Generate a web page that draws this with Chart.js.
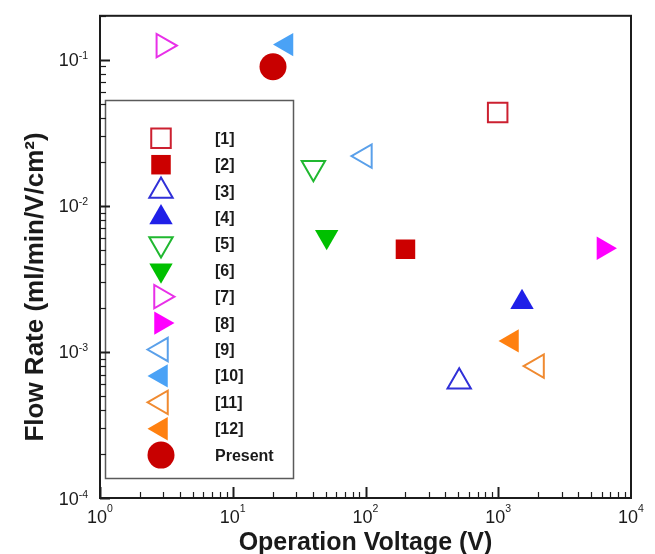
<!DOCTYPE html>
<html>
<head>
<meta charset="utf-8">
<script src="https://cdn.jsdelivr.net/npm/chart.js@4/dist/chart.umd.min.js"></script>
<style>
  html, body { margin: 0; padding: 0; background: #fff; }
  #wrap { width: 655px; height: 554px; }
</style>
</head>
<body>
<div id="wrap"><canvas id="c" width="655" height="554"></canvas></div>
<script>
// Reference works compared against the present device
const refLabels = ['[1]', '[2]', '[3]', '[4]', '[5]', '[6]', '[7]', '[8]', '[9]', '[10]', '[11]', '[12]', 'Present'];
// Operation voltage (V)
const voltage = [990, 200, 508, 1510, 40.5, 51, 3.0, 6200, 99, 25.4, 1960, 1270, 20.1];
// Flow rate (ml/min/V/cm^2)
const flowRate = [0.0436, 0.00504, 0.000625, 0.00219, 0.0182, 0.00615, 0.125, 0.00513, 0.0219, 0.127, 0.0008, 0.00119, 0.0896];
// Marker appearance per work
const markerShape = ['rect', 'rect', 'triangle', 'triangle', 'triangle', 'triangle', 'triangle', 'triangle', 'triangle', 'triangle', 'triangle', 'triangle', 'circle'];
const markerTurn = [0, 0, 0, 0, 180, 180, 90, 90, 270, 270, 270, 270, 0];
const markerFilled = [false, true, false, true, false, true, false, true, false, true, false, true, true];
const markerColor = ['#cc2030', '#cc0000', '#3030d8', '#2020e8', '#20b830', '#00c000', '#e830e8', '#ff00ff', '#5aa0ea', '#4aa2f6', '#f08a30', '#ff8010', '#c80000'];
// Axis decade tick labels
const xDecades = [0, 1, 2, 3, 4];
const yDecades = [-4, -3, -2, -1];

const FONT = '"Liberation Sans", Arial, Helvetica, sans-serif';

const datasets = refLabels.map((lab, i) => ({
  label: lab,
  data: [{ x: voltage[i], y: flowRate[i] }],
  pointStyle: markerShape[i],
  pointRotation: markerTurn[i],
  pointRadius: markerShape[i] === 'rect' ? 13.8 : 13.5,
  pointBorderWidth: markerFilled[i] ? 0 : 2,
  pointBorderColor: markerColor[i],
  pointBackgroundColor: markerFilled[i] ? markerColor[i] : 'rgba(255,255,255,0)',
  showLine: false
}));

function drawMarker(ctx, opts, x, y) {
  if (window.Chart && Chart.helpers && Chart.helpers.drawPoint) {
    Chart.helpers.drawPoint(ctx, opts, x, y);
    return;
  }
  const r = opts.radius;
  ctx.beginPath();
  if (opts.pointStyle === 'circle') {
    ctx.arc(x, y, r, 0, Math.PI * 2);
  } else if (opts.pointStyle === 'rect') {
    const s = Math.SQRT1_2 * r;
    ctx.rect(x - s, y - s, 2 * s, 2 * s);
  } else {
    let rad = (opts.rotation || 0) * Math.PI / 180;
    for (let k = 0; k < 3; k++) {
      const px = x + Math.sin(rad) * r, py = y - Math.cos(rad) * r;
      if (k === 0) ctx.moveTo(px, py); else ctx.lineTo(px, py);
      rad += 2 * Math.PI / 3;
    }
    ctx.closePath();
  }
  ctx.fill();
  if (opts.borderWidth > 0) ctx.stroke();
}

// Legend box placed inside the plot area, drawn from the datasets
const insideLegend = {
  id: 'insideLegend',
  afterDatasetsDraw(chart) {
    const ctx = chart.ctx;
    const box = { l: 105.5, t: 100.5, r: 293.5, b: 478.5 };
    ctx.save();
    ctx.fillStyle = '#ffffff';
    ctx.fillRect(box.l, box.t, box.r - box.l, box.b - box.t);
    ctx.strokeStyle = '#5a5a5a';
    ctx.lineWidth = 1.5;
    ctx.strokeRect(box.l, box.t, box.r - box.l, box.b - box.t);
    const y0 = 138.3, step = 26.4;
    chart.data.datasets.forEach((ds, i) => {
      const y = y0 + i * step;
      ctx.save();
      ctx.fillStyle = ds.pointBackgroundColor;
      ctx.strokeStyle = ds.pointBorderColor;
      ctx.lineWidth = ds.pointBorderWidth;
      drawMarker(ctx, {
        pointStyle: ds.pointStyle,
        rotation: ds.pointRotation,
        radius: ds.pointRadius,
        borderWidth: ds.pointBorderWidth
      }, 161, y);
      ctx.restore();
      ctx.fillStyle = '#1a1a1a';
      ctx.font = 'bold 16px ' + FONT;
      ctx.textAlign = 'left';
      ctx.textBaseline = 'middle';
      ctx.fillText(ds.label, 215, y + 1);
    });
    ctx.restore();
  }
};

// Frame, inward log ticks, decade labels with exponents, axis titles
const frameAxes = {
  id: 'frameAxes',
  afterDraw(chart) {
    const ctx = chart.ctx;
    const a = chart.chartArea;
    const xs = chart.scales.x, ys = chart.scales.y;
    ctx.save();
    ctx.strokeStyle = '#1c1c1c';

    // minor + major ticks on the bottom axis
    for (let d = xDecades[0]; d < xDecades[xDecades.length - 1]; d++) {
      for (let m = 1; m <= 9; m++) {
        const v = m * Math.pow(10, d);
        const px = Math.round(xs.getPixelForValue(v)) + 0.5;
        const major = m === 1;
        ctx.lineWidth = major ? 2 : 1.2;
        ctx.beginPath();
        ctx.moveTo(px, a.bottom);
        ctx.lineTo(px, a.bottom - (major ? 11 : 6));
        ctx.stroke();
      }
    }
    // minor + major ticks on the left axis
    for (let d = yDecades[0]; d <= yDecades[yDecades.length - 1]; d++) {
      for (let m = 1; m <= 9; m++) {
        const v = m * Math.pow(10, d);
        if (v > ys.max) break;
        const py = Math.round(ys.getPixelForValue(v)) + 0.5;
        const major = m === 1;
        ctx.lineWidth = major ? 2 : 1.2;
        ctx.beginPath();
        ctx.moveTo(a.left, py);
        ctx.lineTo(a.left + (major ? 10 : 6), py);
        ctx.stroke();
      }
    }

    // plot frame
    ctx.lineWidth = 2;
    ctx.strokeRect(a.left, a.top, a.right - a.left, a.bottom - a.top);

    ctx.fillStyle = '#1a1a1a';
    ctx.textBaseline = 'alphabetic';
    const baseFont = '18px ' + FONT;
    const supFont = '10.5px ' + FONT;

    // x decade labels
    xDecades.forEach(d => {
      const px = xs.getPixelForValue(Math.pow(10, d));
      ctx.font = baseFont;
      const w1 = ctx.measureText('10').width;
      ctx.font = supFont;
      const w2 = ctx.measureText(String(d)).width;
      const left = px - (w1 + w2) / 2;
      ctx.font = baseFont;
      ctx.textAlign = 'left';
      ctx.fillText('10', left, 523);
      ctx.font = supFont;
      ctx.fillText(String(d), left + w1, 512);
    });

    // y decade labels
    yDecades.forEach(d => {
      const py = ys.getPixelForValue(Math.pow(10, d));
      const sup = '-' + String(-d);
      ctx.font = supFont;
      const w2 = ctx.measureText(sup).width;
      ctx.textAlign = 'right';
      ctx.fillText(sup, 88, py - 0.5);
      ctx.font = baseFont;
      ctx.fillText('10', 88 - w2, py + 6.5);
    });

    // axis titles
    ctx.font = 'bold 25px ' + FONT;
    ctx.textAlign = 'center';
    ctx.fillText('Operation Voltage (V)', (a.left + a.right) / 2, 550);

    ctx.save();
    ctx.translate(43, 287);
    ctx.rotate(-Math.PI / 2);
    ctx.font = 'bold 26px ' + FONT;
    ctx.textAlign = 'center';
    ctx.fillText('Flow Rate (ml/min/V/cm\u00B2)', 0, 0);
    ctx.restore();

    ctx.restore();
  }
};

new Chart(document.getElementById('c'), {
  type: 'scatter',
  data: { datasets },
  options: {
    responsive: false,
    animation: false,
    events: [],
    layout: { padding: { top: 13, right: 24, left: 0, bottom: 0 } },
    plugins: {
      legend: { display: false },
      tooltip: { enabled: false },
      title: { display: false }
    },
    scales: {
      x: {
        type: 'logarithmic',
        min: 1,
        max: 10000,
        grid: { display: false },
        border: { display: false },
        ticks: { display: false },
        afterFit: s => { s.height = 56; }
      },
      y: {
        type: 'logarithmic',
        min: 1e-4,
        max: 0.2,
        grid: { display: false },
        border: { display: false },
        ticks: { display: false },
        afterFit: s => { s.width = 100; }
      }
    }
  },
  plugins: [insideLegend, frameAxes]
});
</script>
</body>
</html>
